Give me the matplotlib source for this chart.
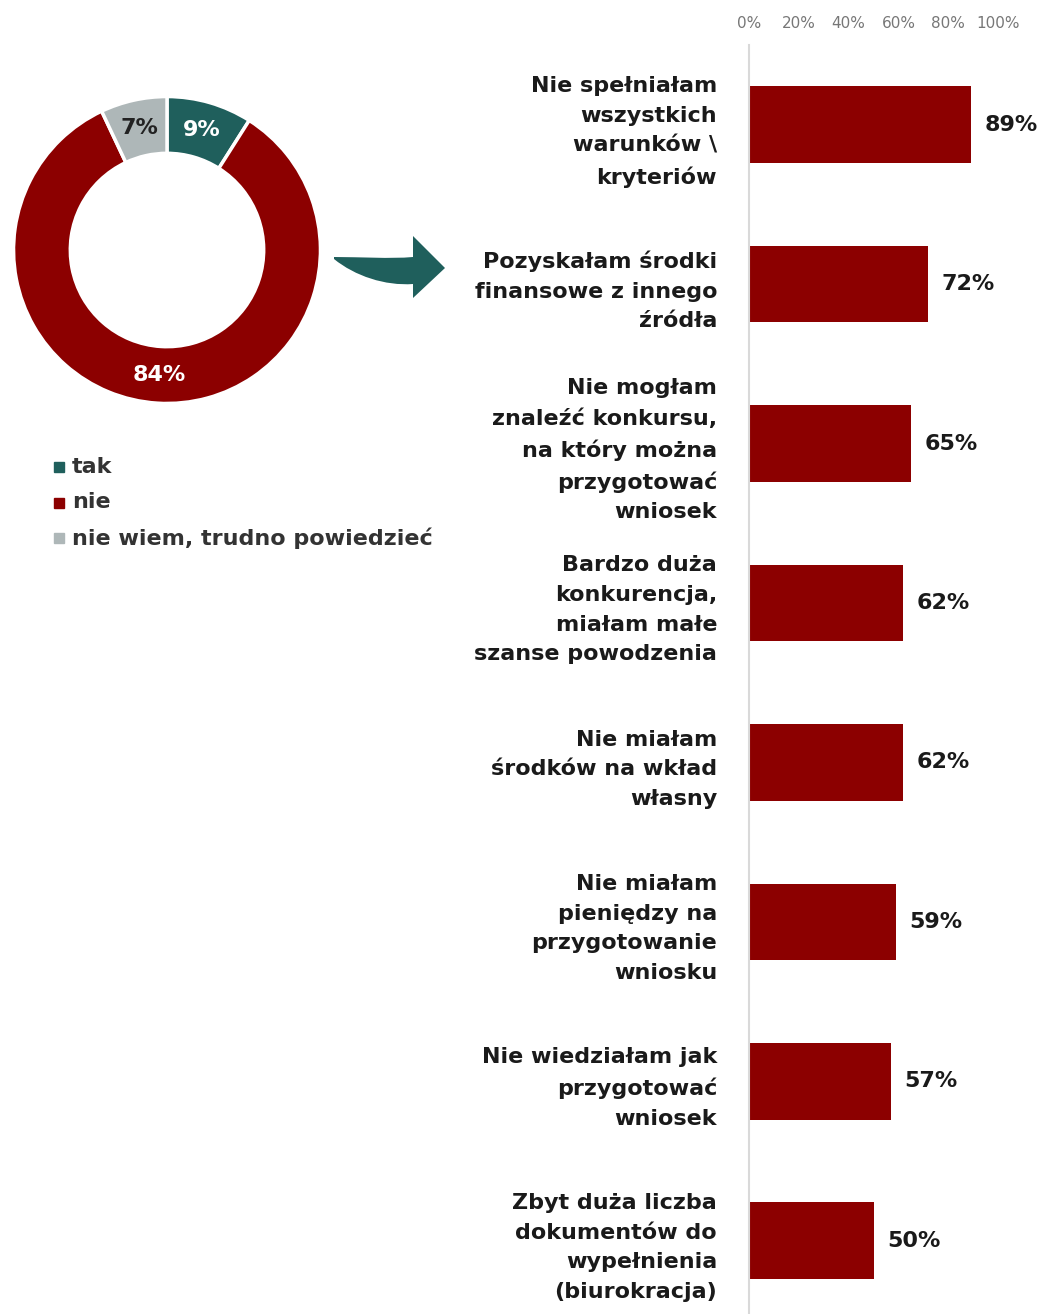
import matplotlib
matplotlib.use("Agg")
import numpy as np
import matplotlib.pyplot as plt
from matplotlib.path import Path
import matplotlib.patches as mpatches

plt.rcParams['font.family'] = ['DejaVu Sans']

# donut data
donut_labels = ['tak', 'nie', 'nie wiem, trudno powiedzieć']
donut_values = [9, 84, 7]
donut_colors = ['#1F5F5C', '#8C0000', '#AEB7B8']
donut_text_colors = ['white', 'white', '#222222']

# bar data
reasons = [
    'Nie spełniałam\nwszystkich\nwarunków \\\nkryteriów',
    'Pozyskałam środki\nfinansowe z innego\nźródła',
    'Nie mogłam\nznaleźć konkursu,\nna który można\nprzygotować\nwniosek',
    'Bardzo duża\nkonkurencja,\nmiałam małe\nszanse powodzenia',
    'Nie miałam\nśrodków na wkład\nwłasny',
    'Nie miałam\npieniędzy na\nprzygotowanie\nwniosku',
    'Nie wiedziałam jak\nprzygotować\nwniosek',
    'Zbyt duża liczba\ndokumentów do\nwypełnienia\n(biurokracja)',
]
shares = [89, 72, 65, 62, 62, 59, 57, 50]
tick_values = [0, 20, 40, 60, 80, 100]

W, H = 1037, 1314
fig = plt.figure(figsize=(W / 100, H / 100), dpi=100)


def fx(x):
    return x / W


def fy(y):
    return 1 - y / H


# ---- donut ----
ax_d = fig.add_axes([fx(12), fy(405), 310 / W, 310 / H])
wedges, _ = ax_d.pie(donut_values, colors=donut_colors, startangle=90, counterclock=False,
                     radius=1.0, wedgeprops=dict(width=0.37, edgecolor='white', linewidth=2.5))
ax_d.set_xlim(-1.01, 1.01)
ax_d.set_ylim(-1.01, 1.01)
ax_d.set_aspect('equal')
for w, val, tc in zip(wedges, donut_values, donut_text_colors):
    ang = np.deg2rad((w.theta1 + w.theta2) / 2)
    r = 0.815
    ax_d.text(r * np.cos(ang), r * np.sin(ang), f'{val}%', ha='center', va='center',
              color=tc, fontsize=16, fontweight='bold')

# legend
for i, (lab, col) in enumerate(zip(donut_labels, donut_colors)):
    y = 467 + i * 35.5
    fig.patches.append(mpatches.Rectangle((fx(54), fy(y + 5)), 10 / W, 10 / H,
                                          transform=fig.transFigure, color=col))
    fig.text(fx(72), fy(y), lab, ha='left', va='center', fontsize=16,
             fontweight='bold', color='#333333')

# curved arrow
verts = [
    (334, 257), (360, 257), (390, 259), (413, 257),
    (413, 236), (445, 268), (413, 298), (413, 284),
    (385, 286), (355, 276), (334, 259), (334, 257),
]
codes = [Path.MOVETO, Path.CURVE4, Path.CURVE4, Path.CURVE4,
         Path.LINETO, Path.LINETO, Path.LINETO, Path.LINETO,
         Path.CURVE4, Path.CURVE4, Path.CURVE4, Path.CLOSEPOLY]
arrow = mpatches.PathPatch(Path([(fx(x), fy(y)) for x, y in verts], codes),
                           transform=fig.transFigure, facecolor='#1F5F5C', edgecolor='none')
fig.patches.append(arrow)

# ---- bars ----
ax = fig.add_axes([fx(749), 0, 249 / W, fy(45)])
pos = list(range(len(reasons)))
ax.barh(pos, shares, height=0.48, color='#8C0000')
ax.set_xlim(0, 100)
ax.set_ylim(7.46, -0.5)
ax.xaxis.tick_top()
ax.set_xticks(tick_values)
ax.set_xticklabels([f'{v}%' for v in tick_values])
ax.tick_params(axis='x', length=0, labelsize=11, labelcolor='#777777', pad=10)
ax.set_yticks(pos)
ax.set_yticklabels(reasons, fontsize=16, fontweight='bold', color='#1a1a1a',
                   linespacing=1.6)
ax.tick_params(axis='y', length=0, pad=23)
for s in ['top', 'right', 'bottom']:
    ax.spines[s].set_visible(False)
ax.spines['left'].set_color('#D9D9D9')
ax.spines['left'].set_linewidth(1.5)
for p, v in zip(pos, shares):
    ax.text(v + 5.5, p, f'{v}%', ha='left', va='center', fontsize=16,
            fontweight='bold', color='#1a1a1a')

fig.savefig('out.png', dpi=100)
